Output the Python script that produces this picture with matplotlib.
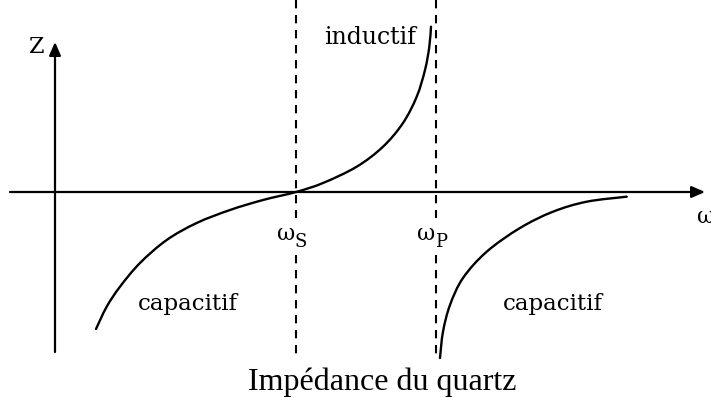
import matplotlib
matplotlib.use("Agg")
import matplotlib.pyplot as plt
import numpy as np
from matplotlib.path import Path
from matplotlib.patches import FancyArrowPatch, PathPatch

# Reactance of a quartz crystal versus angular frequency (schematic units)
w_series = 241      # series resonance  ωS
w_parallel = 381    # parallel resonance ωP

# capacitive branch below ωS, then inductive branch up to ωP
branch1_w = [41, 51.7, 65, 85, 111.7, 141.7, 175, 208, 241,
             268, 301.7, 328, 348, 361.7, 370, 374.3, 376]
branch1_z = [-137, -114.7, -94.7, -71, -48, -31, -18, -8, 0,
             9, 25.3, 45.3, 69, 95.3, 122, 145.3, 165.3]

# capacitive branch above ωP
branch2_w = [385, 388, 395, 408, 431.7, 465, 498, 531.7, 571.7]
branch2_z = [-166, -139.7, -113, -86, -59.7, -36, -19.7, -9.7, -4.7]


def smooth_path(xs, ys):
    """Cubic Bezier path passing through every point (Catmull-Rom tangents)."""
    p = np.column_stack([xs, ys]).astype(float)
    n = len(p)
    verts = [p[0]]
    codes = [Path.MOVETO]
    for i in range(n - 1):
        p0 = p[i - 1] if i > 0 else p[i]
        p1, p2 = p[i], p[i + 1]
        p3 = p[i + 2] if i + 2 < n else p[i + 1]
        c1 = p1 + (p2 - p0) / 6.0
        c2 = p2 - (p3 - p1) / 6.0
        verts += [c1, c2, p2]
        codes += [Path.CURVE4] * 3
    return Path(verts, codes)


fig = plt.figure(figsize=(7.11, 3.98), dpi=100)
ax = fig.add_axes([0, 0, 1, 1])
ax.set_xlim(-55, 656)
ax.set_ylim(-206, 192)
ax.axis("off")

serif = ["DejaVu Serif"]

# axes with arrow heads
ax.add_patch(FancyArrowPatch((-45, 0), (650, 0), arrowstyle="-|>,head_length=8,head_width=3.5",
                             mutation_scale=1, lw=1.6, color="black", shrinkA=0, shrinkB=0))
ax.add_patch(FancyArrowPatch((0, -160), (0, 150), arrowstyle="-|>,head_length=8,head_width=3.5",
                             mutation_scale=1, lw=1.6, color="black", shrinkA=0, shrinkB=0))

# resonance markers
for w in (w_series, w_parallel):
    ax.plot([w, w], [192, -26], ls=(0, (4, 3.2)), lw=1.5, color="black")
    ax.plot([w, w], [-63, -168], ls=(0, (4, 3.2)), lw=1.5, color="black")

for xs, ys in ((branch1_w, branch1_z), (branch2_w, branch2_z)):
    ax.add_patch(PathPatch(smooth_path(xs, ys), facecolor="none", edgecolor="black",
                           lw=1.7, capstyle="round"))

ax.text(-18, 145, "Z", fontsize=16, family=serif, ha="center", va="center")
ax.text(642, -25, "ω", fontsize=16, family=serif, ha="left", va="center")
for w, sub in ((w_series, "S"), (w_parallel, "P")):
    ax.text(w - 1, -42, "ω", fontsize=16, family=serif, ha="right", va="center")
    ax.text(w - 1, -50, sub, fontsize=13, family=serif, ha="left", va="center")
ax.text(315, 155, "inductif", fontsize=17, family=serif, ha="center", va="center")
ax.text(133, -112, "capacitif", fontsize=16.5, family=serif, ha="center", va="center")
ax.text(498, -112, "capacitif", fontsize=16.5, family=serif, ha="center", va="center")
ax.text(327, -190, "Impédance du quartz", fontsize=23, family=["Liberation Serif"],
        ha="center", va="center")

fig.savefig("out.png", dpi=100)
